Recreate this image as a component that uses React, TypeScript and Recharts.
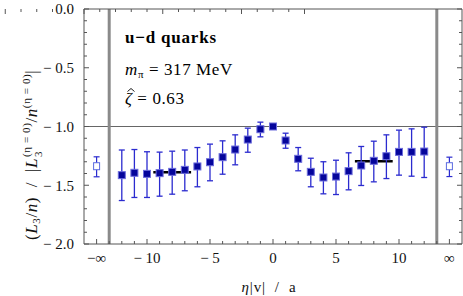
import React from 'react';
import { ComposedChart, Scatter, XAxis, YAxis, ErrorBar, ReferenceLine } from 'recharts';

// ---- data ----
const etaValues = [-12, -11, -10, -9, -8, -7, -6, -5, -4, -3, -2, -1, 0, 1, 2, 3, 4, 5, 6, 7, 8, 9, 10, 11, 12];
const ratioValues = [-1.414, -1.394, -1.403, -1.397, -1.386, -1.369, -1.34, -1.304, -1.261, -1.196, -1.111, -1.023, -1.0,
  -1.119, -1.275, -1.386, -1.434, -1.426, -1.38, -1.332, -1.292, -1.253, -1.216, -1.216, -1.213];
const ratioLower = [-1.63, -1.604, -1.604, -1.593, -1.576, -1.547, -1.513, -1.462, -1.406, -1.326, -1.219, -1.088, -1.0,
  -1.185, -1.377, -1.513, -1.573, -1.579, -1.539, -1.502, -1.471, -1.443, -1.414, -1.423, -1.434];
const ratioUpper = [-1.2, -1.196, -1.215, -1.218, -1.21, -1.2, -1.179, -1.15, -1.122, -1.071, -1.014, -0.963, -1.0,
  -1.057, -1.179, -1.27, -1.3, -1.287, -1.224, -1.17, -1.125, -1.071, -1.031, -1.02, -1.006];

const infEta = [-14, 14];
const infValues = [-1.338, -1.338];
const infLower = [-1.428, -1.426];
const infUpper = [-1.258, -1.261];

const fitFrom = [-9.5, 6.5];
const fitTo = [-6.5, 9.5];
const fitValues = [-1.389, -1.295];

const cutEta = [-13, 13];
const refValue = -1;

const xTickValues = [-14, -13, -12, -11, -10, -9, -8, -7, -6, -5, -4, -3, -2, -1, 0, 1, 2, 3, 4, 5, 6, 7, 8, 9, 10, 11, 12, 13, 14];
const xLabeledTicks = [-14, -10, -5, 0, 5, 10, 14];
const xTickLabels = ['−∞', '− 10', '− 5', '0', '5', '10', '∞'];
const yTickValues = [0, -0.1, -0.2, -0.3, -0.4, -0.5, -0.6, -0.7, -0.8, -0.9, -1.0, -1.1, -1.2, -1.3, -1.4, -1.5, -1.6, -1.7, -1.8, -1.9, -2.0];
const yLabeledTicks = [0, -0.5, -1.0, -1.5, -2.0];
const yTickLabels = ['0.0', '− 0.5', '− 1.0', '− 1.5', '− 2.0'];

const mainData = etaValues.map((x, i) => ({
  x,
  y: ratioValues[i],
  err: [ratioValues[i] - ratioLower[i], ratioUpper[i] - ratioValues[i]],
}));
const infData = infEta.map((x, i) => ({
  x,
  y: infValues[i],
  err: [infValues[i] - infLower[i], infUpper[i] - infValues[i]],
}));

const FONT = '"Liberation Serif", "DejaVu Serif", serif';
const FRAME = '#555';

const xLabelFor = (v: number) => {
  const i = xLabeledTicks.indexOf(v);
  return i >= 0 ? xTickLabels[i] : null;
};
const yLabelFor = (v: number) => {
  const i = yLabeledTicks.findIndex((t) => Math.abs(t - v) < 1e-9);
  return i >= 0 ? yTickLabels[i] : null;
};

const makeTick = (side: 'left' | 'right' | 'top' | 'bottom') => (props: any) => {
  const { x, y, payload } = props;
  const v = payload.value;
  const label = side === 'left' || side === 'right' ? yLabelFor(v) : xLabelFor(v);
  const major = label != null;
  const len = major ? 5 : 3;
  let line;
  if (side === 'left') line = <line x1={x} x2={x + len} y1={y} y2={y} stroke={FRAME} />;
  else if (side === 'right') line = <line x1={x} x2={x - len} y1={y} y2={y} stroke={FRAME} />;
  else if (side === 'bottom') line = <line x1={x} x2={x} y1={y} y2={y - len} stroke={FRAME} />;
  else line = <line x1={x} x2={x} y1={y} y2={y + len} stroke={FRAME} />;
  let text = null;
  if (major && side === 'left') {
    text = (
      <text x={x - 10} y={y} dy="0.35em" textAnchor="end" fontFamily={FONT} fontSize={15} fill="#111" style={{ whiteSpace: 'pre' }}>
        {label}
      </text>
    );
  } else if (major && side === 'bottom') {
    text = (
      <text x={x} y={y + 19} textAnchor="middle" fontFamily={FONT} fontSize={15} fill="#111" style={{ whiteSpace: 'pre' }}>
        {label}
      </text>
    );
  }
  return (
    <g>
      {line}
      {text}
    </g>
  );
};

const FilledSquare = (p: any) => (
  <rect x={p.cx - 3.5} y={p.cy - 3.5} width={7} height={7} fill="#05059b" stroke="#6c6cdc" strokeWidth={1} />
);
const OpenSquare = (p: any) => (
  <rect x={p.cx - 3} y={p.cy - 3.5} width={6} height={7} fill="#fff" stroke="#5a6ae0" strokeWidth={1} />
);

const SCRIPT = 11;

const Stack = ({ sup, sub }: { sup: string; sub: string }) => (
  <span
    style={{
      display: 'inline-flex',
      flexDirection: 'column',
      fontSize: SCRIPT,
      lineHeight: '12px',
      verticalAlign: '7px',
      fontStyle: 'normal',
      marginLeft: 1,
    }}
  >
    <span>{sup}</span>
    <span>{sub}</span>
  </span>
);

export default function App() {
  return (
    <div style={{ position: 'absolute', left: 0, top: 0, width: 463, height: 296, background: '#fff' }}>
      <ComposedChart width={463} height={296} data={mainData} margin={{ top: 8, right: 0, bottom: 0, left: 0 }}>
        <XAxis
          xAxisId={0}
          dataKey="x"
          type="number"
          domain={[-15, 15]}
          allowDataOverflow
          ticks={xTickValues}
          interval={0}
          orientation="bottom"
          height={52}
          tickSize={0}
          tickMargin={0}
          tickLine={false}
          axisLine={{ stroke: FRAME }}
          tick={makeTick('bottom')}
        />
        <XAxis
          xAxisId="top"
          type="number"
          domain={[-15, 15]}
          allowDataOverflow
          ticks={xTickValues}
          interval={0}
          orientation="top"
          height={1}
          tickSize={0}
          tickMargin={0}
          tickLine={false}
          axisLine={{ stroke: FRAME }}
          tick={makeTick('top')}
        />
        <YAxis
          yAxisId={0}
          dataKey="y"
          type="number"
          domain={[-2, 0]}
          allowDataOverflow
          ticks={yTickValues}
          interval={0}
          orientation="left"
          width={84}
          tickSize={0}
          tickMargin={0}
          tickLine={false}
          axisLine={{ stroke: FRAME }}
          tick={makeTick('left')}
        />
        <YAxis
          yAxisId="right"
          type="number"
          domain={[-2, 0]}
          allowDataOverflow
          ticks={yTickValues}
          interval={0}
          orientation="right"
          width={1}
          tickSize={0}
          tickMargin={0}
          tickLine={false}
          axisLine={{ stroke: FRAME }}
          tick={makeTick('right')}
        />
        <ReferenceLine y={refValue} stroke="#666" strokeWidth={1} />
        {cutEta.map((c) => (
          <ReferenceLine key={c} x={c} stroke="#8a8a8a" strokeWidth={3} />
        ))}
        {fitValues.map((v, i) => (
          <ReferenceLine
            key={'fit' + i}
            segment={[
              { x: fitFrom[i], y: v },
              { x: fitTo[i], y: v },
            ]}
            stroke="#000"
            strokeWidth={2.5}
          />
        ))}
        <Scatter data={mainData} shape={FilledSquare} isAnimationActive={false}>
          <ErrorBar dataKey="err" direction="y" width={3} stroke="#2b2bcf" strokeWidth={1.3} isAnimationActive={false} />
        </Scatter>
        <Scatter data={infData} shape={OpenSquare} isAnimationActive={false}>
          <ErrorBar dataKey="err" direction="y" width={3} stroke="#2b2bcf" strokeWidth={1.2} isAnimationActive={false} />
        </Scatter>
      </ComposedChart>

      {/* y-axis title, rotated about its top-left corner */}
      <div
        style={{
          position: 'absolute',
          left: 10,
          top: 240,
          height: 32,
          lineHeight: '32px',
          transform: 'rotate(-90deg)',
          transformOrigin: '0 0',
          whiteSpace: 'pre',
          fontFamily: FONT,
          fontSize: 17,
          letterSpacing: 0.6,
          color: '#111',
        }}
      >
        (<i>L</i>
        <sub style={{ fontSize: SCRIPT, verticalAlign: '-3px' }}>3</sub>/<i>n</i>)<span>  /  </span>|<i>L</i>
        <Stack sup="(η = 0)" sub="3" />/<i>n</i>
        <sup style={{ fontSize: SCRIPT, verticalAlign: '7px' }}>(η = 0)</sup>|
      </div>

      <div
        style={{
          position: 'absolute',
          left: 269,
          top: 279,
          transform: 'translateX(-50%)',
          whiteSpace: 'pre',
          fontFamily: FONT,
          fontSize: 15,
          letterSpacing: 0.8,
          color: '#111',
        }}
      >
        <i>η</i>|v|  /  a
      </div>

      <div style={{ position: 'absolute', left: 125, top: 28, fontFamily: FONT, fontSize: 17, letterSpacing: 0.8, color: '#000', lineHeight: '20px', whiteSpace: 'pre' }}>
        <div style={{ fontWeight: 'bold' }}>u−d quarks</div>
      </div>
      <div style={{ position: 'absolute', left: 125, top: 60, fontFamily: FONT, fontSize: 17, letterSpacing: 0.6, color: '#000', lineHeight: '20px', whiteSpace: 'pre' }}>
        <i>m</i>
        <sub style={{ fontSize: 11, verticalAlign: '-3px' }}>π</sub> = 317 MeV
      </div>
      <div style={{ position: 'absolute', left: 125, top: 89, fontFamily: FONT, fontSize: 17, letterSpacing: 0.6, color: '#000', lineHeight: '20px', whiteSpace: 'pre' }}>
        <span style={{ position: 'relative', display: 'inline-block' }}>
          <i>ζ</i>
          <svg width={8} height={5} style={{ position: 'absolute', left: 2, top: -2 }}>
            <polyline points="0.5,4.5 4,1.5 7.5,4.5" fill="none" stroke="#000" strokeWidth={0.9} />
          </svg>
        </span>{' '}
        = 0.63
      </div>
    </div>
  );
}
